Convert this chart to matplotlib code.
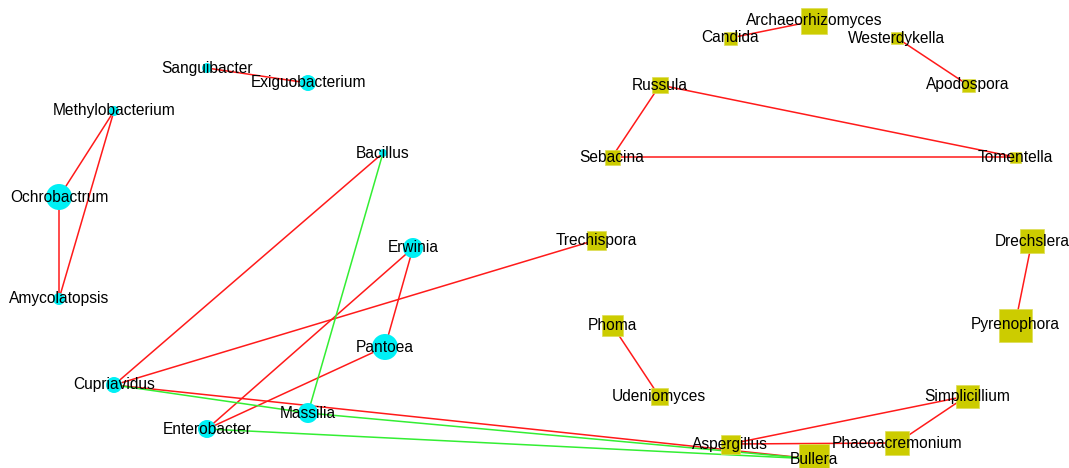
import matplotlib.pyplot as plt

plt.rcParams['font.family'] = ['Liberation Sans', 'DejaVu Sans']

# bacterial genera (circles): layout position and node diameter
bac_names = ["Sanguibacter", "Exiguobacterium", "Methylobacterium", "Ochrobactrum",
             "Amycolatopsis", "Bacillus", "Erwinia", "Pantoea", "Cupriavidus",
             "Massilia", "Enterobacter"]
bac_x = [207, 308, 114, 59, 59, 383, 413, 385, 114, 308, 207]
bac_y = [68, 83, 111, 197, 299, 153, 248, 347, 385, 413, 429]
bac_size = [10, 16, 10, 26, 12, 8, 20, 26, 16, 20, 18]

# fungal genera (squares)
fun_names = ["Archaeorhizomyces", "Candida", "Westerdykella", "Apodospora", "Russula",
             "Sebacina", "Tomentella", "Trechispora", "Drechslera", "Pyrenophora",
             "Phoma", "Udeniomyces", "Simplicillium", "Aspergillus",
             "Phaeoacremonium", "Bullera"]
fun_x = [814, 730, 897, 968, 660, 612, 1015, 596, 1032, 1015, 612, 659, 967, 730, 897, 814]
fun_y = [21, 38, 38, 85, 85, 157, 157, 240, 241, 325, 325, 396, 396, 444, 443, 459]
fun_size = [26, 13, 12, 13, 16, 15, 11, 19, 24, 33, 21, 17, 23, 19, 24, 30]

# co-occurrence edges: red = positive, green = negative
pos_edges = [("Sanguibacter", "Exiguobacterium"), ("Methylobacterium", "Ochrobactrum"),
             ("Methylobacterium", "Amycolatopsis"), ("Ochrobactrum", "Amycolatopsis"),
             ("Bacillus", "Cupriavidus"), ("Erwinia", "Pantoea"),
             ("Erwinia", "Enterobacter"), ("Pantoea", "Enterobacter"),
             ("Cupriavidus", "Trechispora"), ("Cupriavidus", "Bullera"),
             ("Archaeorhizomyces", "Candida"), ("Westerdykella", "Apodospora"),
             ("Russula", "Sebacina"), ("Russula", "Tomentella"),
             ("Sebacina", "Tomentella"), ("Drechslera", "Pyrenophora"),
             ("Phoma", "Udeniomyces"), ("Simplicillium", "Aspergillus"),
             ("Simplicillium", "Phaeoacremonium"), ("Aspergillus", "Phaeoacremonium")]
neg_edges = [("Bacillus", "Massilia"), ("Cupriavidus", "Massilia"),
             ("Massilia", "Bullera"), ("Enterobacter", "Bullera")]

pos = {}
for n, x, y in zip(bac_names, bac_x, bac_y):
    pos[n] = (x, y)
for n, x, y in zip(fun_names, fun_x, fun_y):
    pos[n] = (x, y)

fig = plt.figure(figsize=(10.69, 4.68), dpi=100)
ax = fig.add_axes([0, 0, 1, 1])
ax.set_xlim(0, 1069)
ax.set_ylim(468, 0)
ax.axis('off')

for edges, col in [(pos_edges, '#FF1A1A'), (neg_edges, '#33EE33')]:
    for a, b in edges:
        ax.plot([pos[a][0], pos[b][0]], [pos[a][1], pos[b][1]],
                color=col, lw=1.1, zorder=1)

# pixel diameter -> points^2 at 100 dpi
px = 0.72
ax.scatter(bac_x, bac_y, s=[(d * px) ** 2 for d in bac_size], marker='o',
           color='#00F0F5', edgecolors='none', zorder=2)
ax.scatter(fun_x, fun_y, s=[(d * px) ** 2 for d in fun_size], marker='s',
           color='#CCCC00', edgecolors='#DDDD55', linewidths=0.5, zorder=2)

for n in bac_names + fun_names:
    ax.text(pos[n][0], pos[n][1], n, ha='center', va='center',
            fontsize=11.2, color='black', zorder=3)

fig.savefig('out.png', dpi=100)
